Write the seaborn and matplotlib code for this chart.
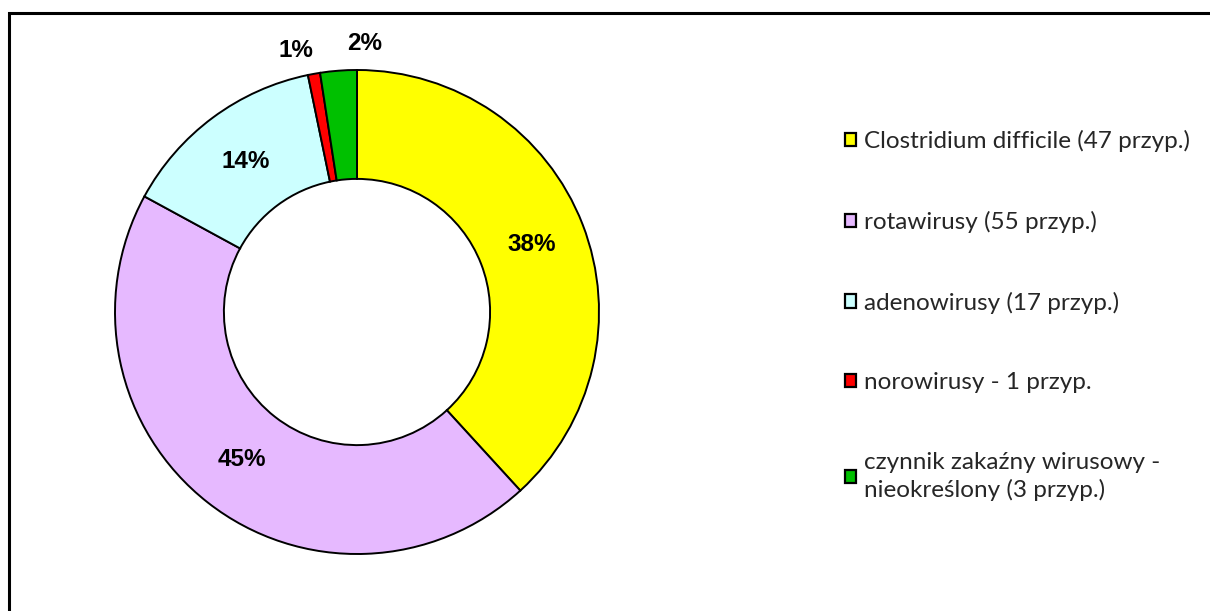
import matplotlib.pyplot as plt
import numpy as np
import seaborn as sns
from matplotlib.patches import Rectangle

sns.set_theme(style='white')
plt.rcParams['font.family'] = ['Lato', 'DejaVu Sans']

# data
labels = ['Clostridium difficile (47 przyp.)', 'rotawirusy (55 przyp.)',
          'adenowirusy (17 przyp.)', 'norowirusy - 1 przyp.',
          'czynnik zakaźny wirusowy -\nnieokreślony (3 przyp.)']
cases = [47, 55, 17, 1, 3]
colors = ['#FFFF00', '#E6B9FF', '#CCFFFF', '#FF0000', '#00C000']
# small slices get their label pushed outside, nudged a bit (degrees)
label_nudge = [0, 0, 0, 3, -6]

fig = plt.figure(figsize=(12.1, 6.11), dpi=100)
W, H = 1210, 611

# frame around the chart area (cut off at right/bottom like the screenshot)
fig.patches.append(Rectangle((9 / W, -0.1), 1.2, (H - 13) / H + 0.1,
                             transform=fig.transFigure, fill=False,
                             edgecolor='black', linewidth=2.2))

cx, cy, R = 357, H - 312, 242
ax = fig.add_axes([(cx - R) / W, (cy - R) / H, 2 * R / W, 2 * R / H])
wedges, _ = ax.pie(cases, colors=colors, startangle=90, counterclock=False,
                   radius=1.0, wedgeprops=dict(width=0.45, edgecolor='black', linewidth=1.4))
ax.set_xlim(-1, 1)
ax.set_ylim(-1, 1)
ax.set_aspect('equal')
ax.axis('off')

total = sum(cases)
for w, n, nudge in zip(wedges, cases, label_nudge):
    pct = n / total * 100
    ang = np.deg2rad((w.theta1 + w.theta2) / 2 + nudge)
    r = 0.775 if pct > 5 else 1.11
    ax.text(r * np.cos(ang), r * np.sin(ang), '{:.0f}%'.format(pct),
            ha='center', va='center', fontsize=17.5, fontweight='bold',
            family='Liberation Sans', color='black', clip_on=False)

leg = fig.legend(wedges, labels, loc='upper left', bbox_to_anchor=(835 / W, 1 - 120 / H),
                 frameon=False, fontsize=17.5, handlelength=0.45, handleheight=0.45,
                 handletextpad=0.35, labelspacing=2.42, borderaxespad=0)
for h in leg.legend_handles:
    h.set_linewidth(1.6)
    h.set_edgecolor('black')
leg.get_texts()[-1].set_linespacing(1.3)

fig.savefig('out.png', dpi=100)
